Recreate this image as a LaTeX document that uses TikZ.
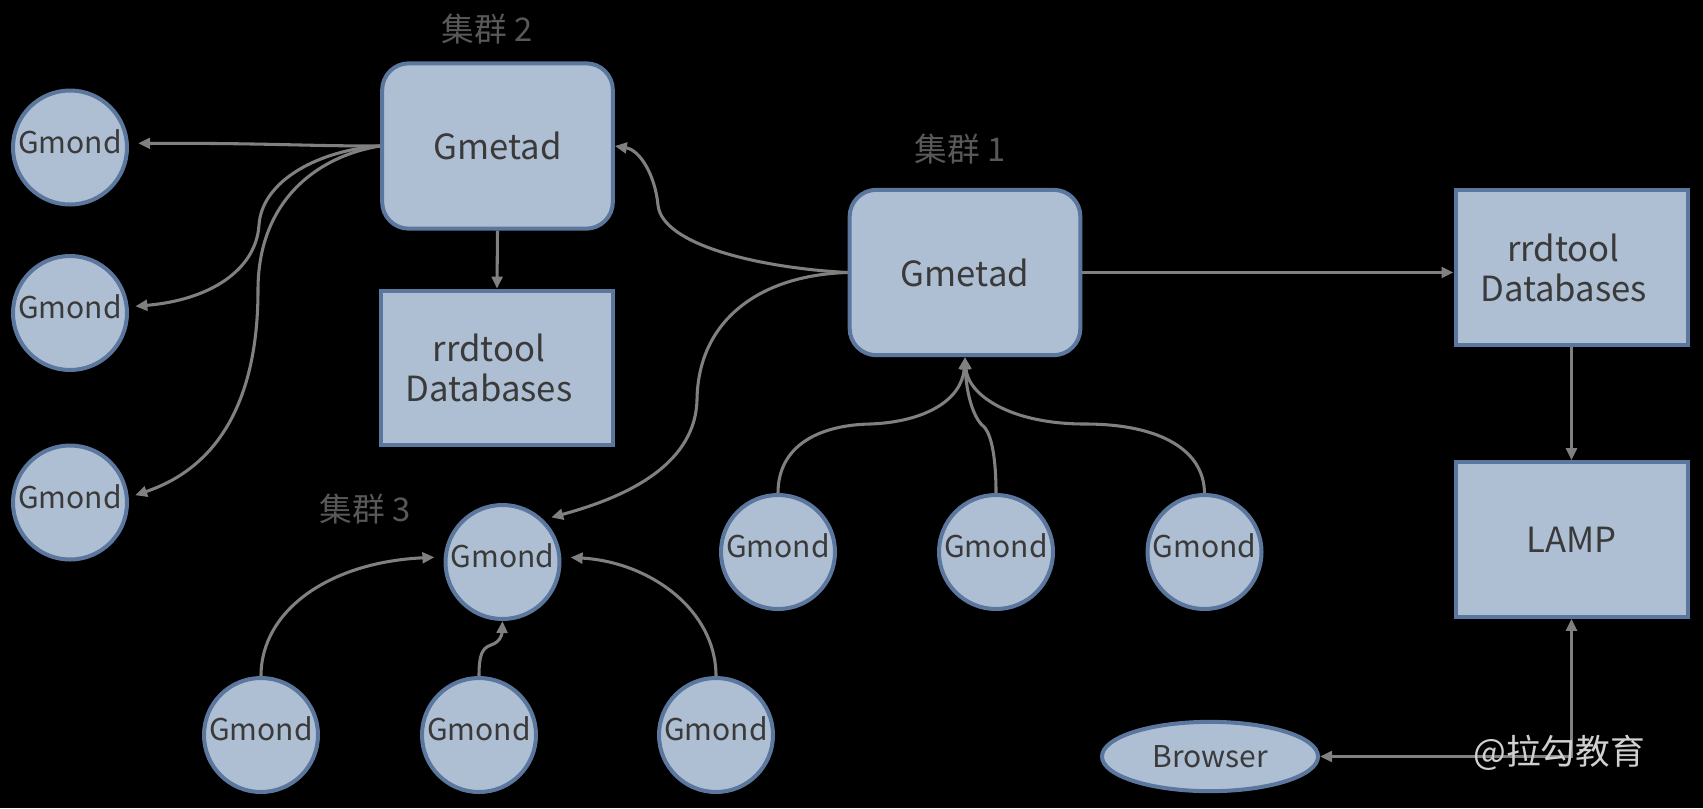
\documentclass[tikz,border=0pt]{standalone}
\usepackage{fontspec}
\setmainfont{Noto Sans CJK SC}
\usetikzlibrary{arrows.meta,shapes.geometric}
\definecolor{nodefill}{HTML}{AFBFD3}
\definecolor{nodeline}{HTML}{5B779D}
\definecolor{txt}{HTML}{3A3A3A}
\definecolor{arrgray}{HTML}{808080}
\definecolor{lblgray}{HTML}{585858}
\definecolor{wmcol}{HTML}{D0D0D0}
\begin{document}
\begin{tikzpicture}[x=0.75pt,y=-0.75pt,
  base/.style={draw=nodeline, fill=nodefill, line width=3pt, text=txt, inner sep=0pt, align=center},
  gmond/.style={base, circle, minimum size=85.5pt, text depth=9pt, font=\fontsize{22.5}{25}\selectfont},
  gmetad/.style={base, rectangle, rounded corners=20pt, minimum width=173pt, minimum height=124pt, font=\fontsize{26}{29}\selectfont},
  dbbox/.style={base, rectangle, minimum width=174pt, minimum height=116pt, font=\fontsize{26}{30}\selectfont},
  browser/.style={base, ellipse, minimum width=162pt, minimum height=52pt, font=\fontsize{22.5}{25}\selectfont},
  lbl/.style={text=lblgray, inner sep=0pt, font=\fontsize{24.5}{26}\selectfont},
  wmark/.style={text=wmcol, inner sep=0pt, font=\fontsize{26}{28}\selectfont},
  arr/.style={draw=arrgray, line width=2.3pt, -{Triangle[length=9pt,width=8pt]}},
  biarr/.style={draw=arrgray, line width=2.3pt, {Triangle[length=9pt,width=8pt]}-{Triangle[length=9pt,width=8pt]}}
]
\path[use as bounding box, fill=black] (0,0) rectangle (1703,808);

% nodes
\node[gmetad] (g2) at (497.5,146) {Gmetad};
\node[gmetad] (g1) at (965,272.5) {Gmetad};
\node[dbbox] (r2) at (497,368) {rrdtool\hspace*{12pt}\\Databases\hspace*{12pt}};
\node[dbbox] (r1) at (1571.5,267.5) {rrdtool\hspace*{12pt}\\Databases\hspace*{12pt}};
\node[dbbox] (lamp) at (1571.5,539.5) {LAMP};
\node[browser] (br) at (1210,756.5) {Browser};

\node[gmond] (l1) at (70,147.5) {Gmond};
\node[gmond] (l2) at (70,313) {Gmond};
\node[gmond] (l3) at (70,502.5) {Gmond};
\node[gmond] (c3) at (502.5,562) {Gmond};
\node[gmond] (b1) at (261,735) {Gmond};
\node[gmond] (b2) at (479,735) {Gmond};
\node[gmond] (b3) at (716,735) {Gmond};
\node[gmond] (a1) at (778,552) {Gmond};
\node[gmond] (a2) at (996,552) {Gmond};
\node[gmond] (a3) at (1204.5,552) {Gmond};

\node[lbl] (c2lbl) at (487,29) {集群 2};
\node[lbl] (c1lbl) at (960,149) {集群 1};
\node[lbl] (c3lbl) at (365,509) {集群 3};

% connectors
\draw[arr, shorten >=7pt] (g2.west) .. controls (300,146) and (270,143) .. (l1.4);
\draw[arr, shorten >=5pt] (g2.west) .. controls (320,150) and (262,180) .. (259,225) .. controls (256,270) and (210,300) .. (l2.6);
\draw[arr, shorten >=5pt] (g2.west) .. controls (318,156) and (258,200) .. (258,290) .. controls (258,390) and (225,465) .. (l3.5);
\draw[arr] (g2.south) -- (r2.north);
\draw[arr] (g1.west) .. controls (760,268) and (662,245) .. (658,205) .. controls (655,175) and (640,150) .. (g2.east);
\draw[arr, shorten >=6pt] (g1.west) .. controls (760,275) and (698,320) .. (697,400) .. controls (695,470) and (615,500) .. (c3.46);
\draw[arr] (a1.north) .. controls (778,445) and (820,425) .. (870,424) .. controls (925,422) and (962,400) .. (g1.south);
\draw[arr] (a2.north) .. controls (996,460) and (992,432) .. (982,425) .. controls (972,415) and (966,390) .. (g1.south);
\draw[arr] (a3.north) .. controls (1204,450) and (1160,424) .. (1085,424) .. controls (1010,424) and (968,395) .. (g1.south);
\draw[arr] (g1.east) -- (r1.west |- g1.east);
\draw[arr] (r1.south) -- (lamp.north);
\draw[biarr] (lamp.south) |- (br.east);
\draw[arr, shorten >=7pt] (b1.north) .. controls (261,610) and (330,562) .. (c3.175);
\draw[arr] (b2.north) .. controls (479,655) and (482,648) .. (491,645) .. controls (500,642) and (502,635) .. (c3.south);
\draw[arr, shorten >=7pt] (b3.north) .. controls (716,610) and (650,562) .. (c3.5);

\node[wmark] (wm) at (1559,753) {@拉勾教育};
\end{tikzpicture}
\end{document}
